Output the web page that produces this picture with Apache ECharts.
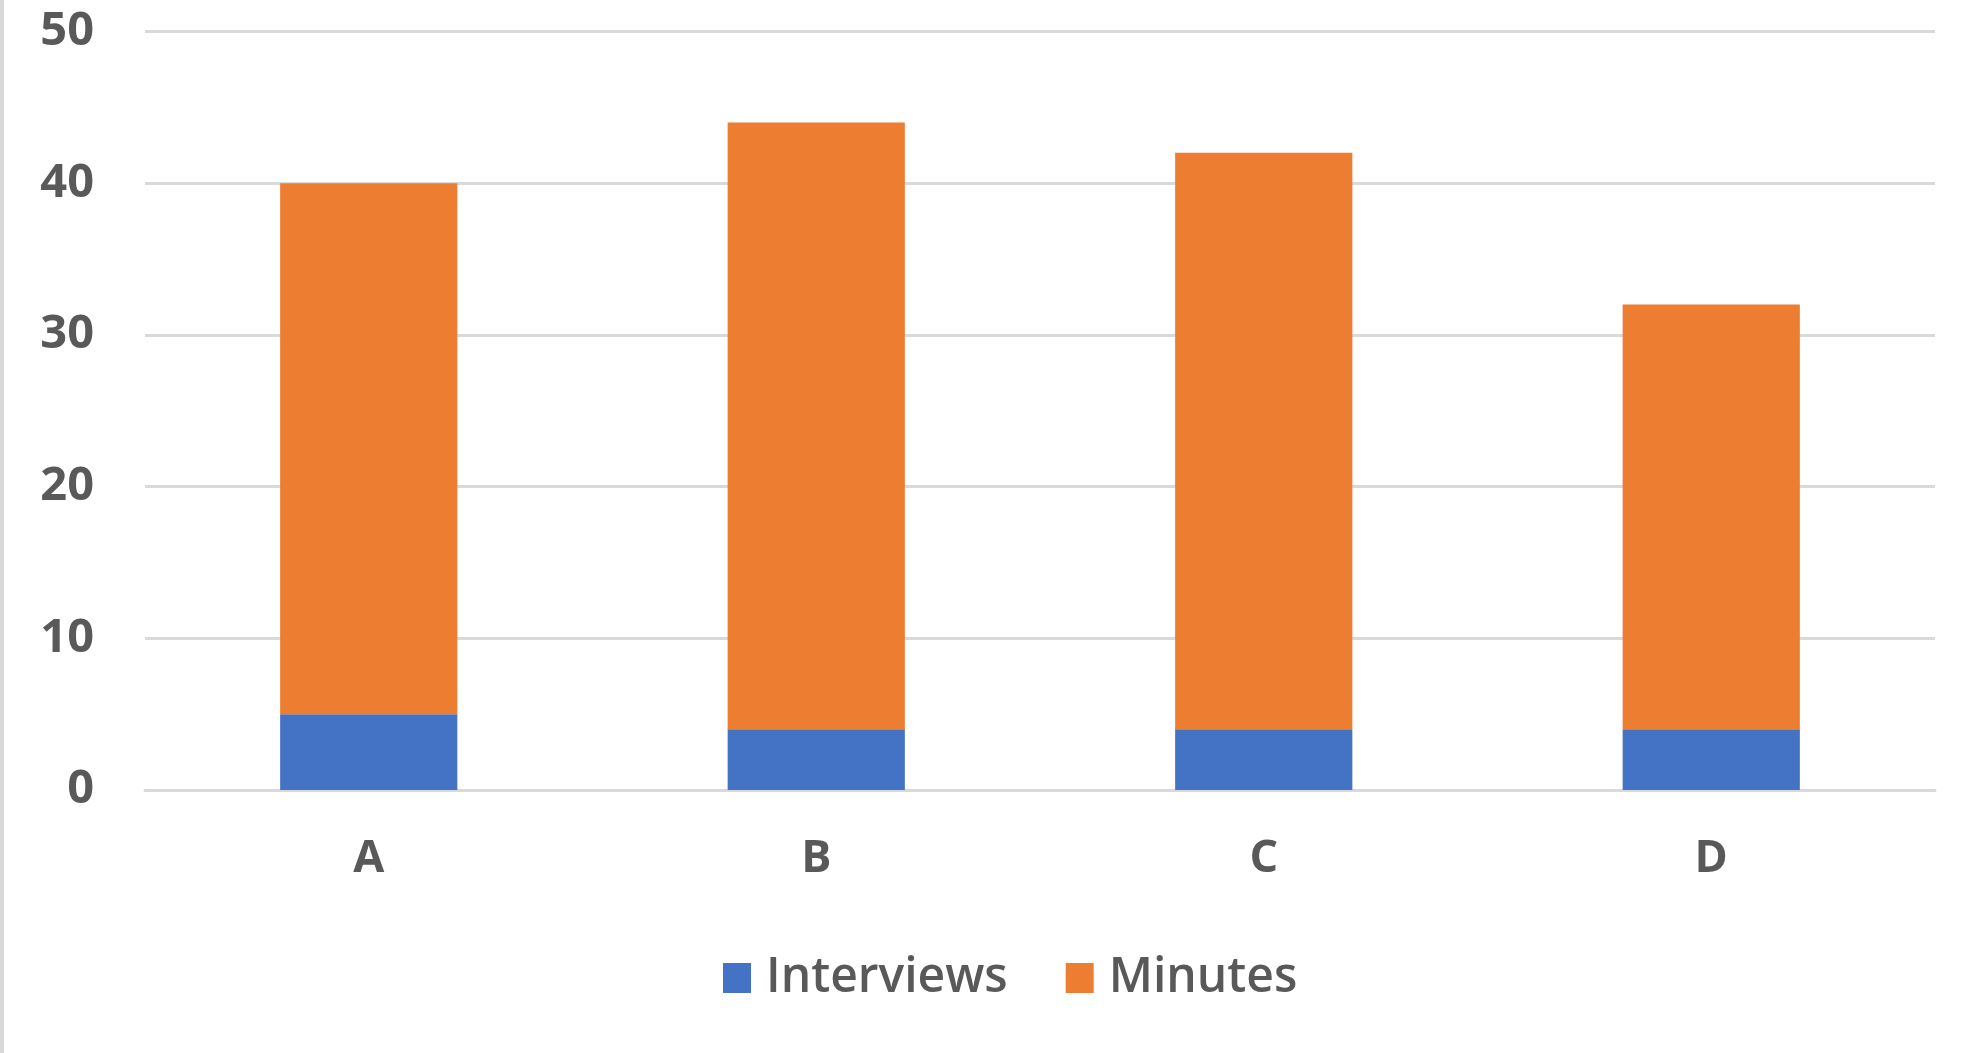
<!DOCTYPE html>
<html>
<head>
<meta charset="utf-8">
<script src="https://cdn.jsdelivr.net/npm/echarts@6/dist/echarts.min.js"></script>
<style>
  html, body { margin: 0; padding: 0; background: #fff; }
  #chart { width: 1972px; height: 1053px; }
</style>
</head>
<body>
<div id="chart"></div>
<script>
const categories = ['A', 'B', 'C', 'D']
const interviews = [5, 4, 4, 4]
const minutes = [35, 40, 38, 28]
const yTicks = { min: 0, max: 50, interval: 10 }

const chart = echarts.init(document.getElementById('chart'))
chart.setOption({
  animation: false,
  backgroundColor: '#fff',
  textStyle: { fontFamily: 'Open Sans' },
  graphic: [{
    type: 'rect',
    left: 0,
    top: 0,
    shape: { width: 4, height: 1053 },
    style: { fill: '#d9d9d9' }
  }],
  grid: {
    left: 145,
    right: 37,
    top: 31.5,
    bottom: 263
  },
  legend: {
    left: 718,
    top: 949,
    itemWidth: 28,
    itemHeight: 30,
    itemGap: 58,
    icon: 'rect',
    textStyle: {
      fontSize: 48,
      fontWeight: 600,
      color: '#595959',
      padding: [0, 0, 0, 10]
    },
    data: ['Interviews', 'Minutes']
  },
  xAxis: {
    type: 'category',
    data: categories,
    axisTick: { show: false },
    axisLine: {
      show: true,
      lineStyle: { color: '#d9d9d9', width: 3 }
    },
    axisLabel: {
      margin: 47,
      fontSize: 45,
      fontWeight: 'bold',
      color: '#595959'
    }
  },
  yAxis: {
    type: 'value',
    min: yTicks.min,
    max: yTicks.max,
    interval: yTicks.interval,
    axisLine: { show: false },
    axisTick: { show: false },
    axisLabel: {
      margin: 51,
      fontSize: 47,
      fontWeight: 'bold',
      color: '#595959'
    },
    splitLine: {
      lineStyle: { color: '#d9d9d9', width: 3 }
    }
  },
  series: [{
    name: 'Interviews',
    type: 'bar',
    stack: 'total',
    barWidth: '39.6%',
    data: interviews,
    itemStyle: { color: '#4472C4' }
  }, {
    name: 'Minutes',
    type: 'bar',
    stack: 'total',
    barWidth: '39.6%',
    data: minutes,
    itemStyle: { color: '#ED7D31' }
  }]
})
</script>
</body>
</html>
